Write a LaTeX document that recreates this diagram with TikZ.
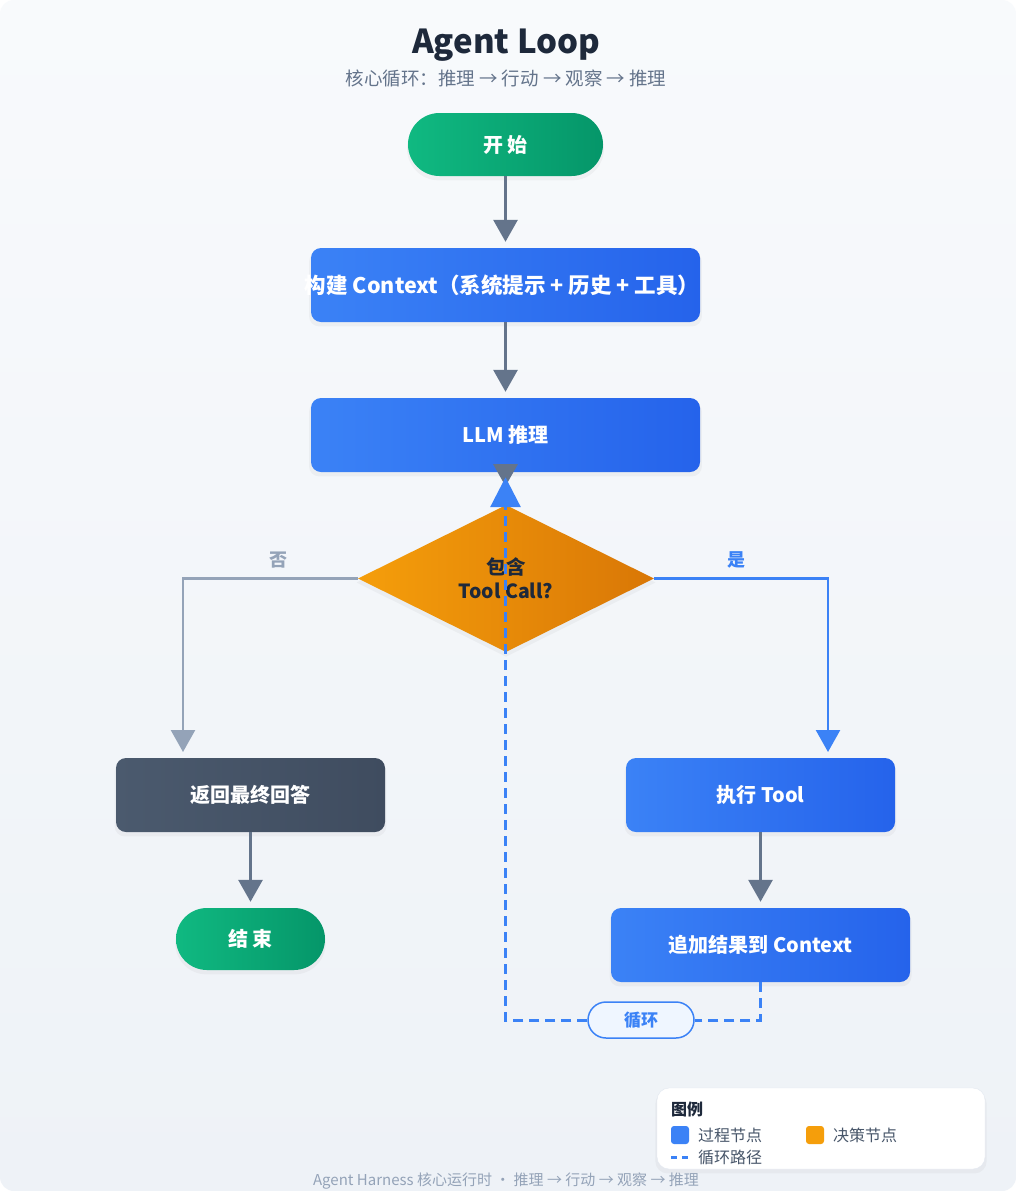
\documentclass[tikz,border=0pt]{standalone}
\usepackage{fontspec}
\setmainfont{Noto Sans CJK SC}
\usetikzlibrary{arrows.meta,shapes.geometric,shadows}
\definecolor{bgtop}{HTML}{F8FAFC}
\definecolor{bgbot}{HTML}{EEF2F7}
\definecolor{blueA}{HTML}{3B82F6}
\definecolor{blueB}{HTML}{2563EB}
\definecolor{greenA}{HTML}{10B981}
\definecolor{greenB}{HTML}{059669}
\definecolor{orangeA}{HTML}{F59E0B}
\definecolor{orangeB}{HTML}{D97706}
\definecolor{slateA}{HTML}{4B5A6E}
\definecolor{slateB}{HTML}{3F4C5F}
\definecolor{ink}{HTML}{1E293B}
\definecolor{muted}{HTML}{64748B}
\definecolor{light}{HTML}{94A3B8}
\definecolor{arrowgray}{HTML}{64748B}
\definecolor{pillbg}{HTML}{EFF6FF}
\definecolor{legtext}{HTML}{475569}
\definecolor{legborder}{HTML}{E2E8F0}
\newcommand\fsz[2]{\fontsize{#1}{#2}\selectfont}
\begin{document}
\begin{tikzpicture}[x=1pt,y=-1pt,
  shad/.style={drop shadow={opacity=0.07, shadow xshift=0pt, shadow yshift=-4pt, shadow scale=1.01}},
  stadium/.style={shad, minimum width=195, minimum height=63, rounded corners=31.5, inner sep=0,
     left color=greenA, right color=greenB, text=white, font=\bfseries\fsz{20}{24}},
  proc/.style={shad, minimum width=389, minimum height=74, rounded corners=10, inner sep=0,
     left color=blueA, right color=blueB, text=white, font=\bfseries\fsz{20}{24}},
  slatebox/.style={proc, left color=slateA, right color=slateB},
  flow/.style={draw=arrowgray, line width=3, -{Triangle[width=24,length=22]}},
  nobr/.style={draw=light, line width=2.5, -{Triangle[width=24,length=22]}},
  yesbr/.style={draw=blueA, line width=2.5, -{Triangle[width=24,length=22]}},
  loopline/.style={draw=blueA, line width=3, dash pattern=on 10pt off 6pt},
  brlabel/.style={font=\bfseries\fsz{18}{22}},
  legitem/.style={anchor=west, text=legtext, font=\fsz{16}{20}, inner sep=0}
]
\useasboundingbox (0,0) rectangle (1016,1191);
\fill[white] (0,0) rectangle (1016,1191);
\shade[top color=bgtop, bottom color=bgbot, rounded corners=14] (0,0) rectangle (1016,1191);

% titles
\node[text=ink, font=\bfseries\fsz{33}{38}] (title) at (506,45) {Agent Loop};
\node[text=muted, font=\fsz{18.5}{22}] (sub) at (506,79) {核心循环：推理 → 行动 → 观察 → 推理};

% nodes
\node[stadium] (start) at (505.5,144.5) {开 始};
\node[proc, font=\bfseries\fsz{21.5}{24}] (ctx) at (505.5,285) {\kern-7pt构建 Context（系统提示 + 历史 + 工具）};
\node[proc] (llm) at (505.5,435) {LLM 推理};
\node[shad, shape=diamond, aspect=2, minimum width=296, minimum height=147, inner sep=0,
      left color=orangeA, right color=orangeB, text=ink, align=center,
      font=\bfseries\fsz{19.5}{24}] (dec) at (506,578.5) {包含\\Tool Call?};
\node[slatebox, minimum width=269] (ret) at (250.5,795) {返回最终回答};
\node[stadium, minimum width=149, minimum height=62, rounded corners=31] (endn) at (250.5,939) {结 束};
\node[proc, minimum width=269] (exec) at (760.5,795) {执行 Tool};
\node[proc, minimum width=299] (app) at (760.5,945) {追加结果到 Context};
\coordinate (noend) at (183,752);
\coordinate (yesend) at (828,752);

% connectors
\draw[flow, shorten >=6pt] (start.south) -- (ctx.north -| start.south);
\draw[flow, shorten >=6pt] (ctx.south -| llm.north) -- (llm.north);
\draw[flow] (llm.south) -- ([yshift=-14pt]llm.south);
\draw[nobr] (dec.west) -| (noend);
\draw[yesbr] (dec.east) -| (yesend);
\draw[flow, shorten >=6pt] (ret.south) -- (endn.north);
\draw[flow, shorten >=6pt] (exec.south) -- (app.north);
\node[brlabel, text=light] (nolab) at (278,560) {否};
\node[brlabel, text=blueA] (yeslab) at (736,560) {是};

% loop
\node[draw=blueA, line width=1.5, fill=pillbg, rounded corners=18, minimum width=106, minimum height=36,
      inner sep=0, text=blueA, font=\bfseries\fsz{17}{20}] (loop) at (641,1020) {循环};
\draw[loopline] (app.south) |- (loop.east);
\draw[loopline] (loop.west) -| ([yshift=-30pt]llm.south);
\draw[draw=blueA, line width=3, -{Triangle[width=30,length=30]}] ([yshift=-34pt]llm.south) -- ([yshift=-5pt]llm.south);

% legend
\node[shad, draw=legborder, fill=white, rounded corners=12, minimum width=328, minimum height=81, inner sep=0] (leg) at (821,1128.5) {};
\node[anchor=west, text=ink, font=\bfseries\fsz{16}{20}, inner sep=0] (legt) at (671,1109) {图例};
\node[fill=blueA, rounded corners=3, minimum size=18, inner sep=0] (sq1) at (680,1135) {};
\node[legitem] (l1) at (698,1135) {过程节点};
\node[fill=orangeA, rounded corners=3, minimum size=18, inner sep=0] (sq2) at (815,1135) {};
\node[legitem] (l2) at (833,1135) {决策节点};
\coordinate (d1) at (671,1157);
\coordinate (d2) at (690,1157);
\draw[draw=blueA, line width=3, dash pattern=on 6pt off 5pt] (d1) -- (d2);
\node[legitem] (l3) at (698,1157) {循环路径};

% footer
\node[text=light, font=\fsz{15}{18}] (foot) at (506,1181) {Agent Harness 核心运行时 · 推理 → 行动 → 观察 → 推理};
\end{tikzpicture}
\end{document}
